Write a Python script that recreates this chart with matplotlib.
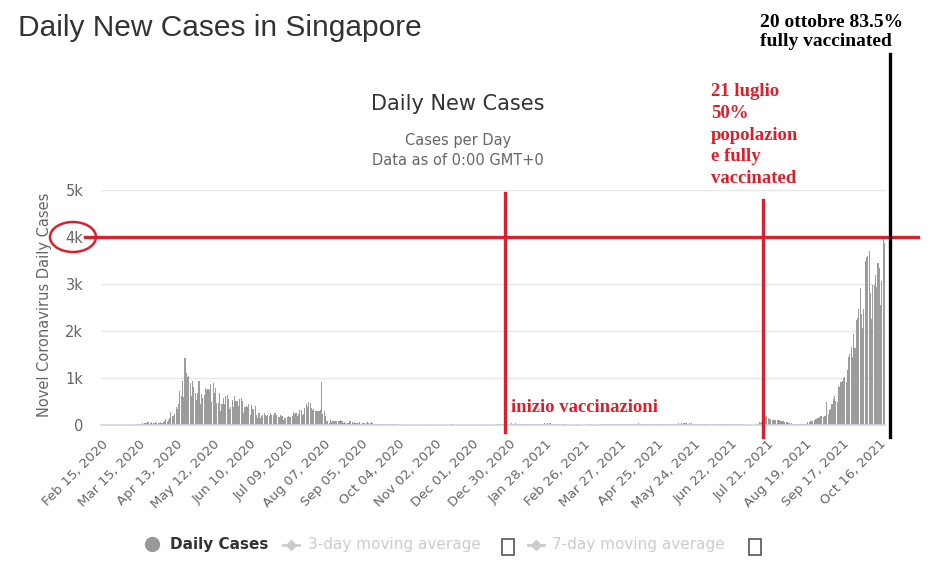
import datetime
import numpy as np
import matplotlib
matplotlib.use("Agg")
import matplotlib.pyplot as plt
from matplotlib.lines import Line2D
from matplotlib.patches import Ellipse, Rectangle
from matplotlib.ticker import FuncFormatter

W, H = 934, 568
START = datetime.date(2020, 2, 15)

# daily new cases, one list per month
feb_2020 = [5, 3, 2, 1, 3, 1, 3, 0, 3, 1, 1, 2, 3, 2, 4]
mar_2020 = [2, 4, 2, 2, 5, 7, 10, 12, 6, 6, 12, 9, 13, 14, 17, 23, 23, 47, 32, 40,
            47, 54, 23, 49, 73, 52, 49, 70, 42, 35, 47]
apr_2020 = [74, 49, 65, 75, 120, 66, 106, 142, 287, 198, 191, 233, 386, 334, 447,
            728, 623, 942, 596, 1426, 1111, 1016, 1037, 897, 618, 931, 799, 690, 528, 690]
may_2020 = [932, 447, 657, 573, 632, 788, 741, 768, 753, 876, 486, 884, 675, 793, 465,
            465, 682, 305, 451, 570, 448, 614, 642, 548, 344, 383, 533, 373, 611, 506, 518]
jun_2020 = [408, 544, 569, 517, 261, 383, 407, 386, 451, 218, 422, 347, 347, 407, 214,
            151, 247, 142, 191, 218, 262, 218, 191, 213, 191, 246, 213, 213, 262, 246]
jul_2020 = [215, 179, 168, 208, 183, 104, 157, 145, 174, 191, 166, 167, 183, 284, 225,
            247, 198, 243, 315, 322, 209, 231, 362, 438, 382, 481, 469, 359, 313, 348, 299]
aug_2020 = [295, 307, 307, 313, 908, 242, 300, 188, 91, 91, 42, 102, 56, 94, 82, 86,
            86, 92, 93, 116, 87, 50, 70, 51, 52, 50, 87, 77, 58, 48, 54]
sep_2020 = [37, 44, 38, 54, 31, 43, 33, 50, 51, 56, 39, 38, 54, 45, 27, 24, 18, 27,
            12, 18, 13, 26, 15, 17, 24, 28, 14, 24, 14, 24]
oct_2020 = [22, 11, 14, 11, 7, 13, 7, 17, 8, 7, 10, 6, 8, 7, 5, 2, 5, 6, 8, 14, 10,
            10, 10, 6, 8, 12, 5, 11, 10, 4, 5]
nov_2020 = [7, 4, 7, 6, 3, 5, 7, 5, 8, 9, 10, 7, 7, 7, 11, 14, 6, 4, 8, 4, 13, 5, 10,
            4, 8, 12, 6, 5, 3, 5]
dec_2020 = [9, 6, 6, 9, 7, 7, 9, 5, 5, 11, 5, 14, 4, 7, 8, 10, 7, 7, 13, 19, 14, 21,
            19, 27, 13, 17, 18, 15, 9, 11, 18]
jan_2021 = [32, 26, 29, 35, 27, 24, 27, 26, 27, 24, 17, 14, 28, 23, 19, 20, 20, 19,
            20, 16, 29, 29, 26, 20, 27, 18, 38, 27, 43, 23, 38]
feb_2021 = [18, 11, 22, 24, 22, 22, 12, 10, 19, 11, 12, 9, 6, 7, 11, 8, 8, 10, 9, 10,
            13, 14, 10, 9, 7, 7, 6, 4]
mar_2021 = [9, 13, 11, 14, 10, 9, 8, 12, 15, 6, 10, 12, 8, 15, 12, 16, 14, 16, 10, 13,
            17, 18, 16, 17, 13, 13, 16, 27, 24, 20, 8]
apr_2021 = [9, 13, 25, 25, 25, 31, 25, 22, 21, 32, 15, 19, 12, 13, 18, 17, 20, 27, 30,
            29, 24, 26, 24, 23, 26, 27, 11, 19, 15, 18]
may_2021 = [25, 14, 12, 17, 19, 16, 25, 21, 21, 30, 31, 36, 26, 38, 28, 38, 39, 34, 22,
            42, 28, 41, 28, 21, 27, 25, 30, 26, 24, 18, 26]
jun_2021 = [18, 22, 19, 21, 8, 14, 24, 20, 15, 15, 18, 21, 10, 15, 13, 24, 27, 18, 18,
            20, 16, 25, 16, 17, 13, 13, 18, 14, 13, 12]
jul_2021 = [11, 7, 10, 5, 7, 11, 15, 10, 5, 6, 10, 9, 15, 56, 42, 67, 48, 53, 163, 182,
            150, 120, 118, 115, 112, 110, 108, 104, 100, 96, 92]
aug_2021 = [88, 80, 72, 60, 55, 45, 40, 35, 30, 28, 26, 30, 25, 22, 20, 22, 25, 28, 27,
            30, 55, 70, 80, 94, 90, 110, 133, 120, 140, 160, 191]
sep_2021 = [191, 177, 187, 185, 485, 235, 328, 332, 457, 555, 607, 520, 498, 837, 807,
            910, 935, 1009, 1012, 917, 1178, 1457, 1504, 1650, 1443, 1939, 1647, 2236,
            2268, 2478]
oct_2021 = [2909, 2356, 2057, 2475, 3486, 3577, 3590, 3703, 2809, 2263, 2976, 2976,
            3190, 2932, 3445, 3348, 2553, 3058, 3994, 3862]

cases = (feb_2020 + mar_2020 + apr_2020 + may_2020 + jun_2020 + jul_2020 + aug_2020 +
         sep_2020 + oct_2020 + nov_2020 + dec_2020 + jan_2021 + feb_2021 + mar_2021 +
         apr_2021 + may_2021 + jun_2021 + jul_2021 + aug_2021 + sep_2021 + oct_2021)
days = np.arange(len(cases))

TICK_STEP = 29
y_ticks = [0, 1000, 2000, 3000, 4000, 5000]

RED = "#d7222e"
SERIF = ["Liberation Serif", "DejaVu Serif"]


def fx(x):
    return x / W


def fy(y):
    return 1 - y / H


fig = plt.figure(figsize=(W / 100, H / 100), dpi=100)
fig.patch.set_facecolor("white")

ax = fig.add_axes([fx(101.4), fy(425), (885 - 101.4) / W, 235 / H])
ax.bar(days, cases, width=0.85, color="#9c9c9c", linewidth=0, zorder=2)
ax.set_xlim(-0.5, len(cases) - 0.5)
ax.set_ylim(0, 5000)

ax.set_yticks(y_ticks)
ax.yaxis.set_major_formatter(FuncFormatter(lambda v, p: "0" if v == 0 else f"{int(v / 1000)}k"))
ax.grid(axis="y", color="#e6e6e6", linewidth=1, zorder=0)
for s in ["top", "right", "left"]:
    ax.spines[s].set_visible(False)
ax.spines["bottom"].set_color("#ccd6eb")
ax.spines["bottom"].set_linewidth(1.2)
ax.spines["bottom"].set_zorder(3)
ax.tick_params(axis="y", length=0, pad=13, labelsize=10.5, labelcolor="#666666")

tick_pos = list(range(0, len(cases), TICK_STEP))
tick_lab = [(START + datetime.timedelta(days=int(d))).strftime("%b %d, %Y") for d in tick_pos]
ax.set_xticks(tick_pos)
ax.set_xticklabels(tick_lab, rotation=45, ha="right", rotation_mode="anchor",
                   fontsize=9.5, color="#666666")
ax.tick_params(axis="x", length=0, pad=9)

# titles
fig.text(fx(18), fy(28), "Daily New Cases in Singapore", fontsize=21.5,
         color="#333333", family=["Liberation Sans", "DejaVu Sans"], va="center")
fig.text(fx(458), fy(104), "Daily New Cases", fontsize=15, color="#333333",
         ha="center", va="center")
fig.text(fx(458), fy(141), "Cases per Day", fontsize=10.5, color="#666666",
         ha="center", va="center")
fig.text(fx(458), fy(160), "Data as of 0:00 GMT+0", fontsize=10.5, color="#666666",
         ha="center", va="center")
fig.text(fx(45), fy(305), "Novel Coronavirus Daily Cases", fontsize=10.5,
         color="#666666", rotation=90, ha="center", va="center")

# legend
fig.add_artist(Line2D([fx(152)], [fy(544)], marker="o", markersize=10,
                      color="#999999", linestyle="none"))
fig.text(fx(170), fy(545), "Daily Cases", fontsize=11, fontweight="bold",
         color="#333333", va="center")
for x0, x1, label, box in [(283, 308, "3-day moving average", 508),
                           (528, 552, "7-day moving average", 755)]:
    fig.add_artist(Line2D([fx(x0), fx(x0 + 16)], [fy(545), fy(545)], color="#cccccc", lw=2))
    fig.add_artist(Line2D([fx(x0 + 8)], [fy(545)], marker="D", markersize=5,
                          color="#cccccc", linestyle="none"))
    fig.text(fx(x1), fy(545), label, fontsize=11, color="#cccccc", va="center")
    fig.add_artist(Rectangle((fx(box - 6), fy(555)), 12 / W, 16 / H,
                             transform=fig.transFigure, fill=False,
                             edgecolor="#555555", lw=1.2))

# hand-drawn annotations
fig.add_artist(Line2D([fx(85), fx(918)], [fy(237), fy(237)], color=RED, lw=2.4))
fig.add_artist(Line2D([fx(505), fx(505)], [fy(193), fy(432)], color=RED, lw=2.4))
fig.add_artist(Line2D([fx(763), fx(763)], [fy(200), fy(437)], color=RED, lw=2.4))
fig.add_artist(Line2D([fx(890), fx(890)], [fy(54), fy(437)], color="black", lw=2.4))
fig.add_artist(Ellipse((fx(73), fy(237)), 46 / W, 30 / H, transform=fig.transFigure,
                       fill=False, edgecolor=RED, lw=1.8))

fig.text(fx(760), fy(32), "20 ottobre 83.5%\nfully vaccinated", fontsize=14,
         fontweight="bold", family=SERIF, color="black", va="center", linespacing=1.2)
fig.text(fx(711), fy(135), "21 luglio\n50%\npopolazion\ne fully\nvaccinated",
         fontsize=13.5, fontweight="bold", family=SERIF, color=RED, va="center",
         linespacing=1.35)
fig.text(fx(511), fy(408), "inizio vaccinazioni", fontsize=13.5, fontweight="bold",
         family=SERIF, color=RED, va="center")

fig.savefig("out.png", dpi=100)
